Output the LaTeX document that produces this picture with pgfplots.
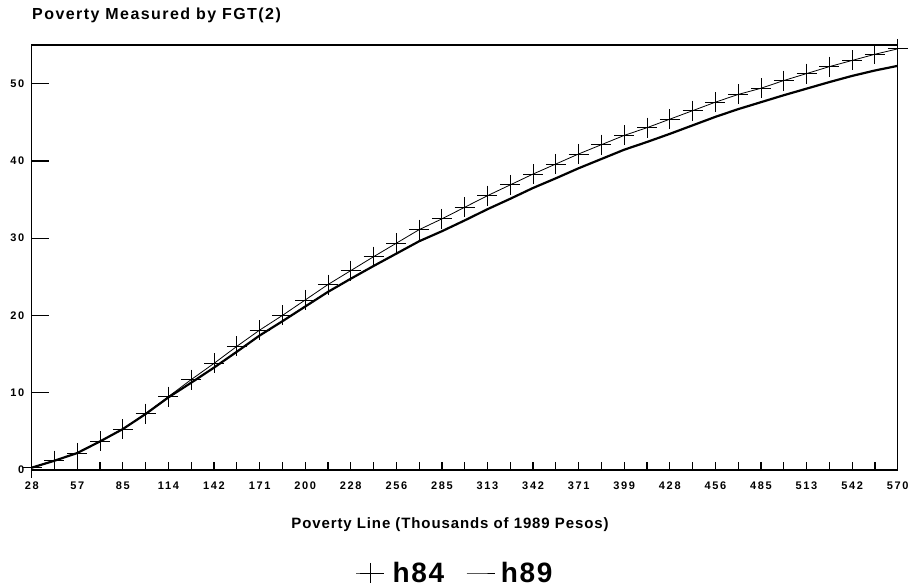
\documentclass[border=0pt]{standalone}
\usepackage{pgfplots}
\pgfplotsset{compat=1.18}
\usepackage{fontspec}
\setmainfont{Liberation Sans}
\newfontfamily\ticksf[LetterSpace=15]{Liberation Sans}
\newfontfamily\titlesf[LetterSpace=9]{Liberation Sans}
\newfontfamily\labelsf[LetterSpace=6]{Liberation Sans}
\newfontfamily\legsf[LetterSpace=6]{Liberation Sans}

% poverty line (thousands of 1989 pesos) vs FGT(2)
\pgfplotstableread{
x       h84    h89
28.000  0.30   0.30
42.263  1.20   1.20
56.526  2.20   2.20
70.789  3.70   3.70
85.053  5.30   5.30
99.316  7.30   7.25
113.579 9.50   9.40
127.842 11.70  11.30
142.105 13.80  13.25
156.368 16.00  15.30
170.632 18.10  17.40
184.895 20.00  19.25
199.158 22.00  21.15
213.421 24.00  23.05
227.684 25.80  24.75
241.947 27.60  26.40
256.211 29.35  28.00
270.474 31.10  29.60
284.737 32.50  30.90
299.000 34.00  32.30
313.263 35.50  33.75
327.526 36.90  35.10
341.789 38.30  36.50
356.053 39.60  37.75
370.316 40.90  39.05
384.579 42.10  40.25
398.842 43.30  41.45
413.105 44.30  42.45
427.368 45.40  43.50
441.632 46.50  44.60
455.895 47.60  45.70
470.158 48.60  46.70
484.421 49.40  47.60
498.684 50.40  48.50
512.947 51.30  49.35
527.211 52.20  50.20
541.474 53.00  51.00
555.737 53.80  51.70
570.000 54.50  52.30
}\fgt

\begin{document}
\begin{tikzpicture}
\useasboundingbox (-31.7pt,-118pt) rectangle (879.3pt,470pt);
\begin{axis}[
    at={(0pt,0pt)}, anchor=south west,
    scale only axis, width=866pt, height=425pt,
    xmin=28, xmax=570, ymin=0, ymax=55,
    clip=false,
    axis line style={line width=1.1pt},
    tick align=inside,
    major tick length=17pt,
    minor tick length=8pt,
    xtick={28,56.526,85.053,113.579,142.105,170.632,199.158,227.684,256.211,284.737,
           313.263,341.789,370.316,398.842,427.368,455.895,484.421,512.947,541.474,570},
    xticklabels={28,57,85,114,142,171,200,228,256,285,313,342,371,399,428,456,485,513,542,570},
    minor xtick={28,42.263,56.526,70.789,85.053,99.316,113.579,127.842,142.105,156.368,
           170.632,184.895,199.158,213.421,227.684,241.947,256.211,270.474,284.737,299,
           313.263,327.526,341.789,356.053,370.316,384.579,398.842,413.105,427.368,441.632,
           455.895,470.158,484.421,498.684,512.947,527.211,541.474,555.737,570},
    xtick pos=left, ytick pos=left,
    major x tick style={draw=none},
    tick style={black, line width=1.2pt},
    ytick={0,10,20,30,40,50},
    /pgf/number format/assume math mode=true,
    ticklabel style={font=\ticksf\bfseries\fontsize{11}{13}\selectfont},
    xticklabel style={yshift=-8pt},
    yticklabel style={xshift=-4pt},
    title={Poverty Measured by FGT(2)},
    title style={at={(axis description cs:0,1)}, anchor=west, yshift=24pt, xshift=-3pt,
                 font=\titlesf\bfseries\fontsize{16}{18}\selectfont},
    xlabel={Poverty Line (Thousands of 1989 Pesos)},
    xlabel style={at={(axis description cs:0.483,0)}, anchor=center, yshift=-55pt,
                  font=\labelsf\bfseries\fontsize{15}{17}\selectfont},
    legend columns=2,
    legend style={draw=none, fill=none, at={(axis description cs:0.489,0)}, anchor=center,
                  yshift=-103pt, font=\legsf\bfseries\fontsize{28}{30}\selectfont,
                  /tikz/every even column/.append style={column sep=20pt}},
    legend image code/.code={\draw[mark repeat=2,mark phase=2,#1]
        plot coordinates {(0pt,0pt) (14pt,0pt) (28pt,0pt)};},
]
\addplot[black, line width=0.8pt, mark=+, mark size=10pt,
         mark options={line width=0.9pt}] table[x=x, y=h84] {\fgt};
\addlegendentry{\hspace{6pt}h84}
\addplot[black, line width=2.2pt, forget plot] table[x=x, y=h89] {\fgt};
\addlegendimage{black, line width=0.6pt}
\addlegendentry{\hspace{4pt}h89}
\end{axis}
\end{tikzpicture}
\end{document}
